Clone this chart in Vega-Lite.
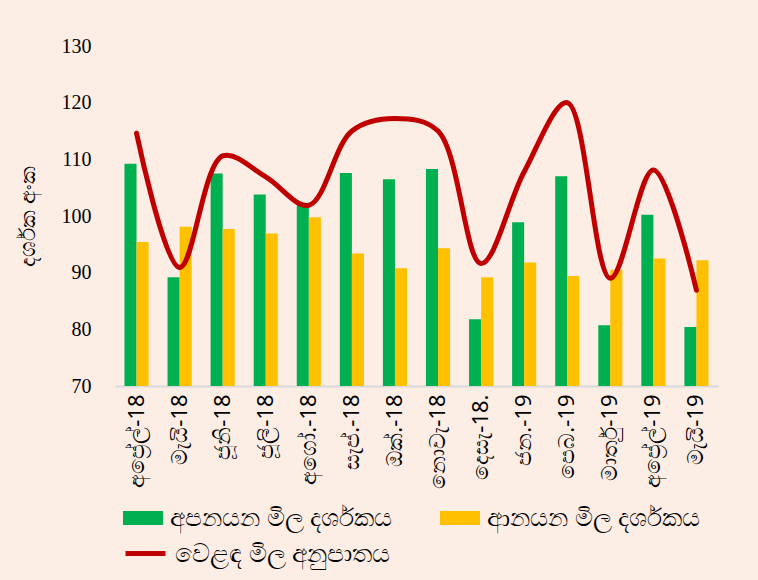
{
  "$schema": "https://vega.github.io/schema/vega-lite/v6.json",
  "width": 603,
  "height": 340,
  "autosize": {"type": "none"},
  "padding": {"left": 115, "top": 46, "right": 40, "bottom": 194},
  "background": "#FCEDE5",
  "config": {"view": {"stroke": null}},
  "data": {
    "values": [
      {"month": "අප්\u200dරේල්-18", "exp": 109.2, "imp": 95.4, "ratio": 114.6},
      {"month": "මැයි-18", "exp": 89.2, "imp": 98.1, "ratio": 90.9},
      {"month": "ජූනි-18", "exp": 107.5, "imp": 97.7, "ratio": 110.6},
      {"month": "ජූලි-18", "exp": 103.8, "imp": 96.9, "ratio": 106.9},
      {"month": "අගෝ.-18", "exp": 101.9, "imp": 99.8, "ratio": 101.9},
      {"month": "සැප්.-18", "exp": 107.6, "imp": 93.4, "ratio": 115.0},
      {"month": "ඔක්.-18", "exp": 106.5, "imp": 90.8, "ratio": 117.2},
      {"month": "නොවැ-18", "exp": 108.3, "imp": 94.3, "ratio": 115.0},
      {"month": "දෙසැ-18.", "exp": 81.8, "imp": 89.2, "ratio": 91.6},
      {"month": "ජන.-19", "exp": 98.9, "imp": 91.8, "ratio": 107.8},
      {"month": "පෙබ.-19", "exp": 107.0, "imp": 89.4, "ratio": 120.0},
      {"month": "මාර්තු-19", "exp": 80.7, "imp": 90.5, "ratio": 89.0},
      {"month": "අප්\u200dරේල්-19", "exp": 100.2, "imp": 92.5, "ratio": 108.1},
      {"month": "මැයි-19", "exp": 80.4, "imp": 92.2, "ratio": 86.9}
    ]
  },
  "encoding": {
    "x": {
      "field": "month", "type": "nominal", "sort": null,
      "scale": {"paddingInner": 0.44, "paddingOuter": 0.22},
      "axis": {
        "title": null, "labelAngle": -90, "labelAlign": "right", "labelBaseline": "middle",
        "ticks": false, "domainColor": "#D9D9D9", "domainWidth": 2,
        "labelFont": "Noto Sans", "labelFontSize": 22, "labelColor": "#000000", "labelPadding": 8, "labelLimit": 200
      }
    }
  },
  "layer": [
    {
      "transform": [
        {"fold": ["exp", "imp"], "as": ["key", "value"]},
        {"lookup": "key", "from": {"data": {"values": [
          {"key": "exp", "series": "අපනයන මිල දර්ශකය"},
          {"key": "imp", "series": "ආනයන මිල දර්ශකය"}
        ]}, "key": "key", "fields": ["series"]}}
      ],
      "mark": {"type": "bar", "clip": true},
      "encoding": {
        "xOffset": {"field": "series", "type": "nominal", "scale": {"domain": ["අපනයන මිල දර්ශකය", "ආනයන මිල දර්ශකය"], "paddingInner": 0, "paddingOuter": 0}},
        "y": {
          "field": "value", "type": "quantitative",
          "scale": {"domain": [70, 130], "zero": false, "nice": false},
          "axis": {
            "title": "දර්ශක අංක", "titleFont": "Noto Sans", "titleFontSize": 22, "titleFontWeight": "normal", "titleColor": "#000000", "titlePadding": 22,
            "values": [70, 80, 90, 100, 110, 120, 130], "grid": false, "domain": false, "ticks": false,
            "labelFont": "Liberation Serif", "labelFontSize": 20, "labelColor": "#000000", "labelPadding": 24
          }
        },
        "color": {
          "field": "series", "type": "nominal",
          "scale": {"domain": ["අපනයන මිල දර්ශකය", "ආනයන මිල දර්ශකය"], "range": ["#00B050", "#FFC000"]},
          "legend": {
            "title": null, "orient": "none", "legendX": 8, "legendY": 452, "direction": "horizontal",
            "symbolType": "M-1,-0.35H1V0.35H-1Z", "symbolSize": 1600, "symbolStrokeWidth": 0,
            "labelFont": "Noto Sans", "labelFontSize": 25, "labelColor": "#000000", "labelLimit": 400,
            "labelOffset": 7, "columnPadding": 47, "padding": 0
          }
        }
      }
    },
    {
      "mark": {"type": "line", "interpolate": "catmull-rom", "strokeWidth": 5, "strokeCap": "round"},
      "encoding": {
        "y": {"field": "ratio", "type": "quantitative"},
        "stroke": {
          "datum": "වෙළඳ මිල අනුපාතය",
          "scale": {"range": ["#C00000"]},
          "legend": {
            "title": null, "orient": "none", "legendX": 8, "legendY": 485,
            "symbolType": "stroke", "symbolSize": 1600, "symbolStrokeWidth": 5,
            "labelFont": "Noto Sans", "labelFontSize": 25, "labelColor": "#000000", "labelLimit": 400,
            "labelOffset": 7, "padding": 0
          }
        }
      }
    }
  ]
}
